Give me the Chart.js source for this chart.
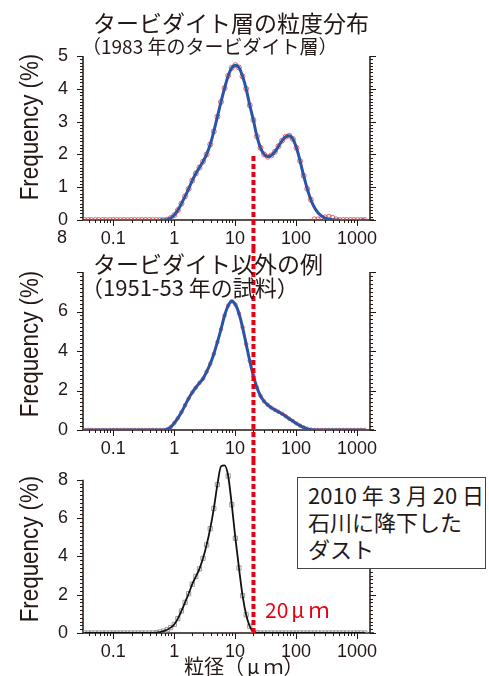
<!DOCTYPE html>
<html>
<head>
<meta charset="utf-8">
<script src="https://cdn.jsdelivr.net/npm/chart.js@4/dist/chart.umd.min.js"></script>
<style>
  html, body { margin: 0; padding: 0; background: #fff; overflow: hidden; }
  #page { position: relative; width: 489px; height: 676px; overflow: hidden; }
  canvas { position: absolute; left: 0; }
  .jp { position: absolute; font-family: "Noto Sans CJK JP", sans-serif; color: #231815; white-space: nowrap; line-height: 1; }
  .ytitle { position: absolute; font-family: "Liberation Sans", sans-serif; font-size: 26px; color: #231815; white-space: nowrap; line-height: 1; transform: translate(-50%, -50%) rotate(-90deg) scaleX(0.86); }
  .num { position: absolute; font-family: "Liberation Sans", sans-serif; font-size: 18px; color: #231815; line-height: 1; }
  #note { position: absolute; left: 297px; top: 477px; width: 189px; height: 92px; border: 1.5px solid #444; background: #fff; padding: 3px 0 0 10px; box-sizing: border-box; font-size: 22px; line-height: 27px; }
  .mu { margin: 0 4px 0 3px; }
</style>
</head>
<body>
<div id="page">
  <canvas id="turb" width="489" height="248" style="top:0"></canvas>
  <canvas id="other" width="489" height="212" style="top:248px"></canvas>
  <canvas id="dust" width="489" height="230" style="top:460px"></canvas>

  <div class="jp" style="left:93px; top:11px; font-size:23px;">タービダイト層の粒度分布</div>
  <div class="jp" style="left:82px; top:36px; font-size:19px;">（1983 年のタービダイト層）</div>
  <div class="jp" style="left:93px; top:252px; font-size:23px;">タービダイト以外の例</div>
  <div class="jp" style="left:81px; top:275px; font-size:22px;">（1951-53 年の試料）</div>

  <div class="ytitle" style="left:29px; top:127px;">Frequency (%)</div>
  <div class="ytitle" style="left:29px; top:344px;">Frequency (%)</div>
  <div class="ytitle" style="left:29px; top:549px;">Frequency (%)</div>
  <div class="num" style="left:57px; top:228px;">8</div>

  <div id="note" class="jp">2010 年 3 月 20 日<br>石川に降下した<br>ダスト</div>
  <div class="jp" style="left:265px; top:599px; font-size:21px; color:#e60012;">20<span class="mu">μ</span>ｍ</div>
  <div class="jp" style="left:184px; top:656px; font-size:20px;">粒径（<span class="mu">μ</span>ｍ）</div>
</div>

<script>
// particle size bins (um)
const sizes = [0.034, 0.039, 0.044, 0.051, 0.058, 0.067, 0.076, 0.088, 0.1, 0.115,
  0.131, 0.15, 0.172, 0.197, 0.226, 0.259, 0.296, 0.339, 0.389, 0.445,
  0.51, 0.584, 0.669, 0.766, 0.877, 1.005, 1.151, 1.318, 1.51, 1.729,
  1.981, 2.269, 2.599, 2.976, 3.409, 3.905, 4.472, 5.122, 5.867, 6.72,
  7.697, 8.816, 10.097, 11.565, 13.246, 15.172, 17.377, 19.904, 22.797, 26.111,
  29.907, 34.255, 39.234, 44.938, 51.471, 58.953, 67.523, 77.34, 88.583, 101.46,
  116.21, 133.103, 152.453, 174.616, 200, 229.075, 262.376, 300.518, 344.206, 394.244,
  451.556, 517.2, 592.387, 678.504, 777.141, 890.116, 1019.515, 1167.725, 1337.481];

// 1983 turbidite layer: measured points (red) and fitted curve (blue)
const turb1983Points = [0, 0, 0, 0, 0, 0, 0, 0, 0, 0,
  0, 0, 0, 0, 0, 0, 0, 0, 0, 0,
  0, 0, 0, 0.01, 0.06, 0.15, 0.3, 0.5, 0.72, 0.95,
  1.2, 1.42, 1.6, 1.78, 2.0, 2.3, 2.7, 3.15, 3.6, 4.02,
  4.4, 4.64, 4.72, 4.65, 4.38, 4.0, 3.5, 3.05, 2.55, 2.2,
  2.0, 1.93, 1.97, 2.08, 2.25, 2.42, 2.54, 2.57, 2.47, 2.2,
  1.8, 1.35, 0.95, 0.62, 0.02, 0.02, 0.04, 0.08, 0.1, 0.07,
  0.02, 0, 0, 0, 0, 0, 0, 0, 0];
const turb1983Fit = [null, null, null, null, null, null, null, null, null, null,
  null, null, null, null, null, null, null, null, null, null,
  null, 0, 0, 0.01, 0.06, 0.15, 0.3, 0.5, 0.72, 0.95,
  1.2, 1.42, 1.6, 1.78, 2.0, 2.3, 2.7, 3.15, 3.6, 4.02,
  4.4, 4.64, 4.72, 4.65, 4.38, 4.0, 3.5, 3.05, 2.55, 2.2,
  2.0, 1.93, 1.97, 2.08, 2.25, 2.42, 2.54, 2.57, 2.47, 2.2,
  1.8, 1.35, 0.95, 0.62, 0.38, 0.22, 0.12, 0.06, 0.03, 0.01,
  0, 0, null, null, null, null, null, 0, 0];

// 1951-53 sample (not a turbidite)
const sample1951 = [0, 0, 0, 0, 0, 0, 0, 0, 0, 0,
  0, 0, 0, 0, 0, 0, 0, 0, 0, 0,
  0, 0, 0, 0.03, 0.15, 0.35, 0.6, 0.9, 1.25, 1.6,
  1.9, 2.15, 2.38, 2.6, 2.95, 3.35, 3.85, 4.45, 5.1, 5.8,
  6.3, 6.52, 6.35, 5.9, 5.2, 4.35, 3.5, 2.75, 2.15, 1.72,
  1.45, 1.27, 1.13, 1.02, 0.92, 0.82, 0.7, 0.57, 0.45, 0.33,
  0.22, 0.13, 0.06, 0.02, 0, 0, 0, 0, 0, 0,
  0, 0, 0, 0, 0, 0, 0, 0, 0];

// dust fallen in Ishikawa, 2010-03-20
const dust2010 = [0, 0, 0, 0, 0, 0, 0, 0, 0, 0,
  0, 0, 0, 0, 0, 0, 0, 0, 0, 0,
  0.02, 0.05, 0.1, 0.17, 0.28, 0.45, 0.75, 1.15, 1.6, 2.05,
  2.55, 2.95, 3.35, 3.9, 4.6, 5.45, 6.5, 7.75, 8.7, 8.75,
  8.2, 6.7, 4.95, 3.4, 1.95, 0.95, 0.35, 0.08, 0.01, 0,
  0, 0, 0, 0, 0, 0, 0, 0, 0, 0,
  0, 0, 0, 0, 0, 0, 0, 0, 0, 0,
  0, 0, 0, 0, 0, 0, 0, 0, 0];

const xTickValues = [0.1, 1, 10, 100, 1000];
const cutSize = 20;

const INK = '#231815';
const tickFont = { family: 'Liberation Sans', size: 18 };

function pairs(ys) {
  return sizes.map((s, i) => ({ x: s, y: ys[i] }));
}

// axis lines + major/minor ticks on left, right and bottom
const frame = {
  id: 'frame',
  beforeDatasetsDraw(chart, args, opts) {
    const { ctx, chartArea: a, scales: { x, y } } = chart;
    ctx.save();
    ctx.strokeStyle = INK;
    ctx.lineWidth = 1;
    ctx.beginPath();
    for (let e = -2; e <= 3; e++) {
      for (let m = 1; m <= 9; m++) {
        const v = m * Math.pow(10, e);
        if (v < x.min || v > x.max) continue;
        const px = Math.round(x.getPixelForValue(v)) + 0.5;
        ctx.moveTo(px, a.bottom);
        ctx.lineTo(px, a.bottom + (m === 1 ? 6 : 3));
      }
    }
    const n = Math.round((y.max - y.min) / opts.minor);
    for (let i = 0; i <= n; i++) {
      const py = Math.round(y.getPixelForValue(y.min + i * opts.minor)) + 0.5;
      const len = i % opts.every === 0 ? 6 : 3;
      ctx.moveTo(a.left - len, py); ctx.lineTo(a.left, py);
      ctx.moveTo(a.right, py); ctx.lineTo(a.right + len, py);
    }
    ctx.stroke();
    ctx.lineWidth = 1.5;
    ctx.beginPath();
    ctx.moveTo(a.left, a.top); ctx.lineTo(a.left, a.bottom); ctx.lineTo(a.right + 4, a.bottom);
    ctx.moveTo(a.right, a.top); ctx.lineTo(a.right, a.bottom);
    ctx.stroke();
    ctx.restore();
  }
};

// red dotted line at 20 um
const cutLine = {
  id: 'cutLine',
  afterDatasetsDraw(chart, args, opts) {
    const { ctx, scales: { x, y } } = chart;
    const px = x.getPixelForValue(cutSize);
    const top = opts.from === undefined ? 0 : y.getPixelForValue(opts.from);
    const bottom = opts.to === undefined ? chart.height : y.getPixelForValue(opts.to);
    ctx.save();
    ctx.strokeStyle = '#e60012';
    ctx.lineWidth = 4;
    ctx.setLineDash([5, 3]);
    ctx.beginPath();
    ctx.moveTo(px, top);
    ctx.lineTo(px, bottom);
    ctx.stroke();
    ctx.restore();
  }
};

function panel(id, datasets, o) {
  return new Chart(document.getElementById(id), {
    type: 'line',
    data: { datasets },
    options: {
      responsive: false,
      animation: false,
      devicePixelRatio: 1,
      spanGaps: false,
      layout: { padding: { top: o.top, right: 119, left: 0, bottom: 0 } },
      plugins: {
        legend: { display: false },
        tooltip: { enabled: false },
        frame: { minor: o.minor, every: o.every },
        cutLine: { from: o.cutFrom, to: o.cutTo }
      },
      scales: {
        x: {
          type: 'logarithmic',
          min: 0.032,
          max: 1630,
          afterFit(s) { s.height = o.xHeight; },
          afterBuildTicks(s) { s.ticks = xTickValues.map(v => ({ value: v })); },
          grid: { display: false, tickLength: 6 },
          border: { display: false },
          ticks: { font: tickFont, color: INK, padding: 2, maxRotation: 0, autoSkip: false, callback: v => String(v) }
        },
        y: {
          min: 0,
          max: o.yMax,
          afterFit(s) { s.width = 83; },
          grid: { display: false, tickLength: 6 },
          border: { display: false },
          ticks: { font: tickFont, color: INK, padding: 9, stepSize: o.step, callback: v => (o.hideTop && v === o.yMax ? '' : String(v)) }
        }
      }
    },
    plugins: [frame, cutLine]
  });
}

panel('turb', [
  { data: pairs(turb1983Fit), borderColor: '#2a55a6', borderWidth: 3, pointRadius: 0, cubicInterpolationMode: 'monotone', order: 0 },
  { data: pairs(turb1983Points), showLine: false, pointStyle: 'circle', pointRadius: 2.5, borderWidth: 1,
    pointBorderColor: 'rgba(236,64,64,0.8)', pointBackgroundColor: 'rgba(0,0,0,0)', order: 1 }
], { top: 56, xHeight: 28, yMax: 5, step: 1, minor: 0.1, every: 10, cutFrom: 1.95 });

panel('other', [
  { data: pairs(sample1951), borderColor: '#2a55a6', borderWidth: 3, pointRadius: 0, cubicInterpolationMode: 'monotone', order: 0 },
  { data: pairs(sample1951), showLine: false, pointStyle: 'circle', pointRadius: 1.8, borderWidth: 1,
    pointBorderColor: 'rgba(238,70,70,0.75)', pointBackgroundColor: 'rgba(0,0,0,0)', order: 1 }
], { top: 24, xHeight: 30, yMax: 8, step: 2, minor: 0.2, every: 10, hideTop: true });

panel('dust', [
  { data: pairs(dust2010), borderColor: '#111', borderWidth: 1.8, pointRadius: 0, cubicInterpolationMode: 'monotone',
    clip: { left: 0, right: 0, top: false, bottom: 0 }, order: 0 },
  { data: pairs(dust2010), showLine: false, pointStyle: 'rect', pointRadius: 3, borderWidth: 1,
    pointBorderColor: '#9a9a9a', pointBackgroundColor: 'rgba(0,0,0,0)', clip: { left: 0, right: 0, top: false, bottom: 0 }, order: 1 }
], { top: 14, xHeight: 57, yMax: 8, step: 2, minor: 0.2, every: 10, cutTo: 0 });
</script>
</body>
</html>
